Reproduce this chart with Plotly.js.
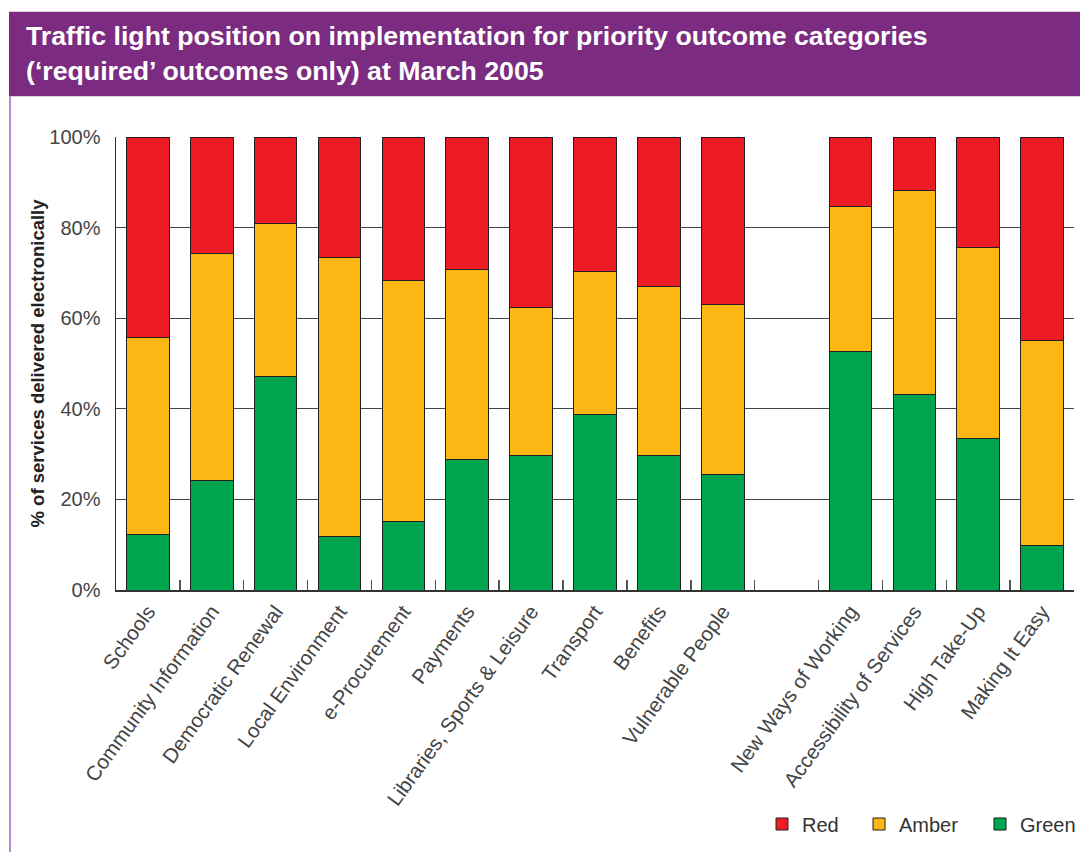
<!DOCTYPE html>
<html>
<head>
<meta charset="utf-8">
<script src="https://cdn.plot.ly/plotly-3.0.1.min.js"></script>
<style>html,body{margin:0;padding:0;background:#fff;}#chart{width:1080px;height:852px;}</style>
</head>
<body>
<div id="chart"></div>
<script>
const categories = ['Schools','Community Information','Democratic Renewal','Local Environment','e-Procurement','Payments','Libraries, Sports & Leisure','Transport','Benefits','Vulnerable People',' ','New Ways of Working','Accessibility of Services','High Take-Up','Making It Easy'];
const green = [12.3, 24.2, 47.1, 11.8, 15.1, 28.9, 29.6, 38.7, 29.6, 25.5, null, 52.6, 43.2, 33.5, 9.8];
const amber = [43.5, 50.0, 33.7, 61.7, 53.2, 41.9, 32.7, 31.6, 37.4, 37.6, null, 32.1, 44.9, 42.1, 45.3];
const red   = [44.2, 25.8, 19.2, 26.5, 31.7, 29.2, 37.7, 29.7, 33.0, 36.9, null, 15.3, 11.9, 24.4, 44.9];
const titleText = 'Traffic light position on implementation for priority outcome categories<br>(‘required’ outcomes only) at March 2005';
const yTitle = '% of services delivered electronically';

const FONT = 'Liberation Sans, Arial, sans-serif';
const outline = {color: '#231F20', width: 1};

const traces = [
  {type: 'bar', name: 'Green', x: categories, y: green, marker: {color: '#00A550', line: outline}, legend: 'legend3', hoverinfo: 'x+y'},
  {type: 'bar', name: 'Amber', x: categories, y: amber, marker: {color: '#FDB714', line: outline}, legend: 'legend2', hoverinfo: 'x+y'},
  {type: 'bar', name: 'Red', x: categories, y: red, marker: {color: '#ED1C24', line: outline}, legend: 'legend', hoverinfo: 'x+y'}
];

const W = 1080, H = 852;
const L = 116, R = 1074, T = 136.5, B = 590.5;
const px = v => (v - L) / (R - L);
const py = v => (B - v) / (B - T);

function leg(xpix) {
  return {x: xpix / W, y: 1 - 824 / H, xref: 'container', yref: 'container', xanchor: 'left', yanchor: 'middle',
          orientation: 'h', bgcolor: 'rgba(0,0,0,0)', borderwidth: 0, visible: true,
          font: {family: FONT, size: 20, color: '#333'}};
}

const layout = {
  width: W, height: H,
  margin: {l: L, r: W - R, t: T, b: H - B},
  paper_bgcolor: '#fff', plot_bgcolor: '#fff',
  barmode: 'stack', bargap: 0.333,
  showlegend: true,
  font: {family: FONT, color: '#333'},
  title: {text: '<b>' + titleText + '</b>', font: {family: FONT, size: 26.7, color: '#fff'},
          xref: 'container', yref: 'container', x: 26 / W, xanchor: 'left', y: 1 - 45 / H, yanchor: 'top'},
  xaxis: {type: 'category', range: [-0.5, 14.5], ticks: 'inside', tickson: 'boundaries', ticklen: 10,
          tickcolor: '#555', tickwidth: 1.5, showline: true, linecolor: '#333', linewidth: 1.5,
          showgrid: false, tickangle: -54, tickfont: {family: FONT, size: 20.5, color: '#444'}, fixedrange: true},
  yaxis: {range: [0, 100], dtick: 20, ticksuffix: '%', showgrid: true, gridcolor: '#444', gridwidth: 1.2,
          showline: true, linecolor: '#333', linewidth: 1.5, zeroline: false, ticks: '',
          ticklabelstandoff: 10, tickfont: {family: FONT, size: 20, color: '#444'},
          title: {text: '<b>' + yTitle + '</b>', font: {family: FONT, size: 18.5, color: '#222'}, standoff: 0}, fixedrange: true},
  legend: leg(762),
  legend2: leg(859),
  legend3: leg(980),
  shapes: [
    {type: 'rect', xref: 'paper', yref: 'paper', x0: px(9), x1: px(1085), y0: py(11), y1: py(95.7),
     fillcolor: '#7B2C80', line: {width: 0}, layer: 'below'},
    {type: 'line', xref: 'paper', yref: 'paper', x0: px(10), x1: px(10), y0: py(95.7), y1: py(860),
     line: {color: '#B48CC8', width: 2}}
  ]
};

Plotly.newPlot('chart', traces, layout, {displayModeBar: false, staticPlot: true});
</script>
</body>
</html>
